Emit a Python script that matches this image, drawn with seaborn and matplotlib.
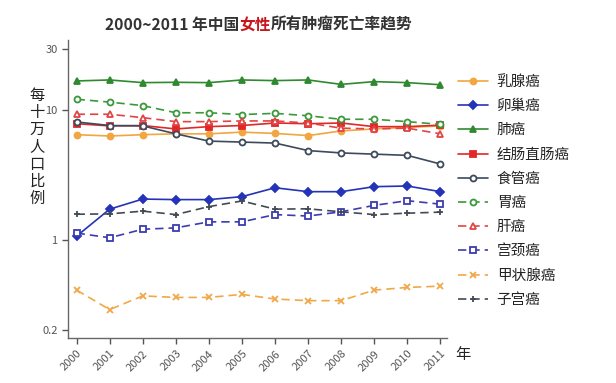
import matplotlib
matplotlib.use("Agg")
import matplotlib.pyplot as plt
from matplotlib.lines import Line2D
import seaborn as sns
import pandas as pd

years = list(range(2000, 2012))
year_labels = [str(y) for y in years]

breast      = [6.5, 6.35, 6.5, 6.6, 6.6, 6.8, 6.65, 6.4, 6.95, 7.2, 7.4, 7.6]
ovarian     = [1.07, 1.73, 2.07, 2.05, 2.05, 2.16, 2.53, 2.36, 2.36, 2.58, 2.61, 2.36]
lung        = [16.9, 17.2, 16.4, 16.5, 16.4, 17.2, 17.0, 17.2, 15.9, 16.7, 16.4, 15.8]
colorectal  = [7.9, 7.6, 7.65, 7.2, 7.5, 7.65, 8.0, 7.9, 8.0, 7.5, 7.5, 7.7]
esophageal  = [8.15, 7.65, 7.6, 6.6, 5.8, 5.7, 5.6, 4.9, 4.7, 4.6, 4.5, 3.86]
stomach     = [12.2, 11.6, 10.9, 9.6, 9.6, 9.3, 9.5, 9.1, 8.55, 8.55, 8.2, 7.8]
liver       = [9.35, 9.35, 8.8, 8.2, 8.2, 8.3, 8.3, 8.0, 7.3, 7.2, 7.3, 6.6]
cervical    = [1.13, 1.04, 1.21, 1.24, 1.38, 1.38, 1.57, 1.53, 1.65, 1.85, 2.01, 1.89]
thyroid     = [0.41, 0.29, 0.37, 0.36, 0.36, 0.38, 0.35, 0.34, 0.34, 0.41, 0.43, 0.44]
uterine     = [1.58, 1.59, 1.67, 1.57, 1.81, 2.0, 1.73, 1.74, 1.65, 1.57, 1.61, 1.64]

names = ["乳腺癌", "卵巢癌", "肺癌", "结肠直肠癌", "食管癌", "胃癌", "肝癌", "宫颈癌", "甲状腺癌", "子宫癌"]
series = [breast, ovarian, lung, colorectal, esophageal, stomach, liver, cervical, thyroid, uterine]

styles = [
    dict(color="#F2A540", marker="o", ls="-", filled=True),
    dict(color="#2433B8", marker="D", ls="-", filled=True),
    dict(color="#2F8A2F", marker="^", ls="-", filled=True),
    dict(color="#E02828", marker="s", ls="-", filled=True),
    dict(color="#3C4A5C", marker="o", ls="-", filled=False),
    dict(color="#3A9A3A", marker="o", ls="--", filled=False),
    dict(color="#E04444", marker="^", ls="--", filled=False),
    dict(color="#3C3CB0", marker="s", ls="--", filled=False),
    dict(color="#F0A848", marker="x", ls="--", filled=False),
    dict(color="#424A55", marker="+", ls="--", filled=False),
]

sns.set_style("ticks")
plt.rcParams["font.family"] = ["Noto Sans CJK SC", "DejaVu Sans"]

fig = plt.figure(figsize=(6.16, 3.83), dpi=100)
ax = fig.add_axes([68/616, 1-338/383, (447-68)/616, (338-40)/383])

handles = []
for name, vals, st in zip(names, series, styles):
    df = pd.DataFrame({"year": years, "rate": vals})
    c = st["color"]
    kw = dict(color=c, marker=st["marker"], markersize=4.3, linewidth=1.2,
              markeredgecolor=c, markeredgewidth=1.3)
    if st["marker"] in ("o", "s", "^", "D"):
        kw["markerfacecolor"] = c if st["filled"] else "white"
    if st["ls"] == "--":
        kw["dashes"] = (5, 3)
    sns.lineplot(data=df, x="year", y="rate", ax=ax, legend=False, **kw)
    h = Line2D([], [], color=c, marker=st["marker"], markersize=4.3, linewidth=1.2,
               markeredgecolor=c, markeredgewidth=1.3,
               markerfacecolor=kw.get("markerfacecolor", c),
               linestyle="--" if st["ls"] == "--" else "-")
    if st["ls"] == "--":
        h.set_dashes((5, 3))
    handles.append(h)

ax.set_yscale("log")
ax.set_ylim(0.175, 35)
ax.set_xlim(1999.74, 2011.2)
ax.set_yticks([0.2, 1, 10, 30])
ax.set_yticklabels(["0.2", "1", "10", "30"])
ax.minorticks_off()
ax.set_xticks(years)
ax.set_xticklabels(year_labels, rotation=45, ha="right", rotation_mode="anchor")
ax.tick_params(axis="both", colors="#555555", labelsize=8, length=4, width=1)
ax.tick_params(axis="x", labelsize=8)
for s in ["top", "right"]:
    ax.spines[s].set_visible(False)
for s in ["left", "bottom"]:
    ax.spines[s].set_color("#666666")
    ax.spines[s].set_linewidth(1)
ax.set_xlabel("")
ax.set_ylabel("")

# stacked vertical y label
fig.text(37/616, 1-147/383, "\n".join("每十万人口比例"), ha="center", va="center",
         fontsize=11, color="#222222", linespacing=1.02)
fig.text(463/616, 1-355/383, "年", ha="center", va="center", fontsize=11, color="#222222")

leg = fig.legend(handles=handles, labels=names, loc="upper left",
                 bbox_to_anchor=(458/616, 1-75/383), frameon=False,
                 fontsize=10.5, handlelength=2.05, handletextpad=0.6,
                 labelspacing=0.7, borderaxespad=0, borderpad=0)
for t in leg.get_texts():
    t.set_color("#222222")

# title with colored part
parts = [("2000~2011 年中国", "#333333"), ("女性", "#C8161D"), ("所有肿瘤死亡率趋势", "#333333")]
texts = []
for s, c in parts:
    texts.append(fig.text(0, 1-25/383, s, color=c, fontsize=11.3, fontweight="bold",
                          va="center", ha="left"))
fig.canvas.draw()
r = fig.canvas.get_renderer()
widths = [t.get_window_extent(r).width for t in texts]
total = sum(widths)
x = 259 - total/2
for t, w in zip(texts, widths):
    t.set_x(x/616)
    x += w

fig.savefig("out.png", dpi=100, facecolor="white")
